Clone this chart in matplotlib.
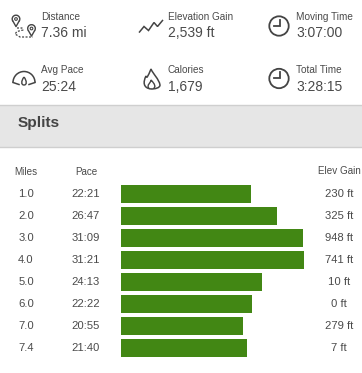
import matplotlib
matplotlib.use("Agg")
import matplotlib.pyplot as plt
import matplotlib.transforms as mt
from matplotlib.patches import Arc, Circle, Rectangle, PathPatch
from matplotlib.path import Path

plt.rcParams['font.family'] = ['Liberation Sans', 'DejaVu Sans']

miles = ["1.0", "2.0", "3.0", "4.0", "5.0", "6.0", "7.0", "7.4"]
pace = ["22:21", "26:47", "31:09", "31:21", "24:13", "22:22", "20:55", "21:40"]
elev = ["230 ft", "325 ft", "948 ft", "741 ft", "10 ft", "0 ft", "279 ft", "7 ft"]
pace_seconds = [int(p[:2]) * 60 + int(p[3:]) for p in pace]

stat_labels = ["Distance", "Elevation Gain", "Moving Time", "Avg Pace", "Calories", "Total Time"]
stat_values = ["7.36 mi", "2,539 ft", "3:07:00", "25:24", "1,679", "3:28:15"]

W, H = 362, 373
TXT = "#4a4a4a"
ICON = "#444444"
GREEN = "#428714"

fig = plt.figure(figsize=(W / 100, H / 100), dpi=100, facecolor="white")

ui = fig.add_axes([0, 0, 1, 1])
ui.set_xlim(0, W)
ui.set_ylim(H, 0)
ui.axis("off")

# header band
ui.add_patch(Rectangle((0, 105), W, 42, fc="#e6e6e6", ec="none"))
ui.plot([0, W], [105.3, 105.3], color="#cfcfcf", lw=1)
ui.plot([0, W], [147, 147], color="#cfcfcf", lw=1)
ui.text(18, 123.5, "Splits", fontsize=11.1, fontweight="bold", color="#444444", va="center")

# stat block
col_x = [41, 168, 296]
row_y = [(17, 33), (70, 87)]
for i, (lab, val) in enumerate(zip(stat_labels, stat_values)):
    x = col_x[i % 3]
    y1, y2 = row_y[i // 3]
    ui.text(x, y1, lab, fontsize=7.2, color=TXT, va="center")
    ui.text(x, y2, val, fontsize=10, color=TXT, va="center")


# icons
def pin(cx, cy, r=3.8):
    ui.add_patch(Arc((cx, cy), 2 * r, 2 * r, theta1=140, theta2=40, ec=ICON, lw=1))
    ui.plot([cx - r * 0.77, cx, cx + r * 0.77], [cy + r * 0.64, cy + r * 2.0, cy + r * 0.64], color=ICON, lw=1)
    ui.add_patch(Circle((cx, cy), r * 0.35, fc="none", ec=ICON, lw=0.8))


pin(16, 19)
pin(31.5, 28.5)
ui.plot([17, 22, 23, 17, 15, 20, 26, 33], [28, 28, 30, 31.5, 34, 37, 37, 37],
        color=ICON, lw=0.9, ls=(0, (1.6, 1.2)))

ui.plot([139.5, 144, 148.5, 154, 157.5, 162.5], [32, 26.5, 30.5, 22.5, 26.5, 20.5],
        color=ICON, lw=1.1, solid_joinstyle="miter")

ui.add_patch(Arc((24, 82.5), 22, 22, theta1=180, theta2=360, ec=ICON, lw=1.1))
ui.plot([13, 19], [82.5, 84.5], color=ICON, lw=1.1)
ui.plot([29, 35], [84.5, 82.5], color=ICON, lw=1.1)
ui.add_patch(PathPatch(Path([(24, 77), (21, 81), (21, 85), (24, 85), (27, 85), (27, 81), (24, 77)],
                            [1, 4, 4, 4, 4, 4, 4]), fc="none", ec=ICON, lw=1))

flame = Path([(151, 89), (143, 88), (143, 82), (146, 76), (147, 79), (148, 76), (151, 69),
              (153, 74), (159, 79), (160, 85), (160, 88), (155, 89), (151, 89)],
             [1] + [4] * 12)
ui.add_patch(PathPatch(flame, fc="none", ec=ICON, lw=1.1))
ui.add_patch(PathPatch(Path([(149, 88.5), (146, 85), (151, 83), (151, 80), (155, 84), (156, 87), (153.5, 88.5)],
                            [1, 4, 4, 4, 4, 4, 4]), fc="none", ec=ICON, lw=1))

for cy in (26, 78.5):
    ui.add_patch(Circle((279, cy), 9.7, fc="none", ec=ICON, lw=1.3))
    ui.plot([279.7, 279.7, 273.7], [cy - 6.5, cy - 0.5, cy - 0.5], color=ICON, lw=1.3,
            solid_joinstyle="miter")

# table headers
hdr_y = 172
ui.text(26, hdr_y, "Miles", fontsize=7.1, color=TXT, ha="center", va="center")
ui.text(86, hdr_y, "Pace", fontsize=7.1, color=TXT, ha="center", va="center")
ui.text(339, hdr_y - 1, "Elev Gain", fontsize=7.1, color=TXT, ha="center", va="center")

# bars
ax = fig.add_axes([121 / W, 1 - 359 / H, 183 / W, 176 / H])
ypos = list(range(len(pace_seconds)))
ax.barh(ypos, pace_seconds, height=18 / 22, color=GREEN)
ax.set_xlim(0, max(pace_seconds))
ax.set_ylim(len(pace_seconds) - 0.5, -0.5)
ax.axis("off")

# table rows, aligned with the bars
blend = mt.blended_transform_factory(ui.transData, ax.transData)
for yi, m, p, e in zip(ypos, miles, pace, elev):
    ax.text(26, yi, m, transform=blend, fontsize=8.1, color=TXT, ha="center", va="center", clip_on=False)
    ax.text(86, yi, p, transform=blend, fontsize=8.1, color=TXT, ha="center", va="center", clip_on=False)
    ax.text(339, yi, e, transform=blend, fontsize=8.1, color=TXT, ha="center", va="center", clip_on=False)

fig.savefig("out.png", dpi=100, facecolor="white")
